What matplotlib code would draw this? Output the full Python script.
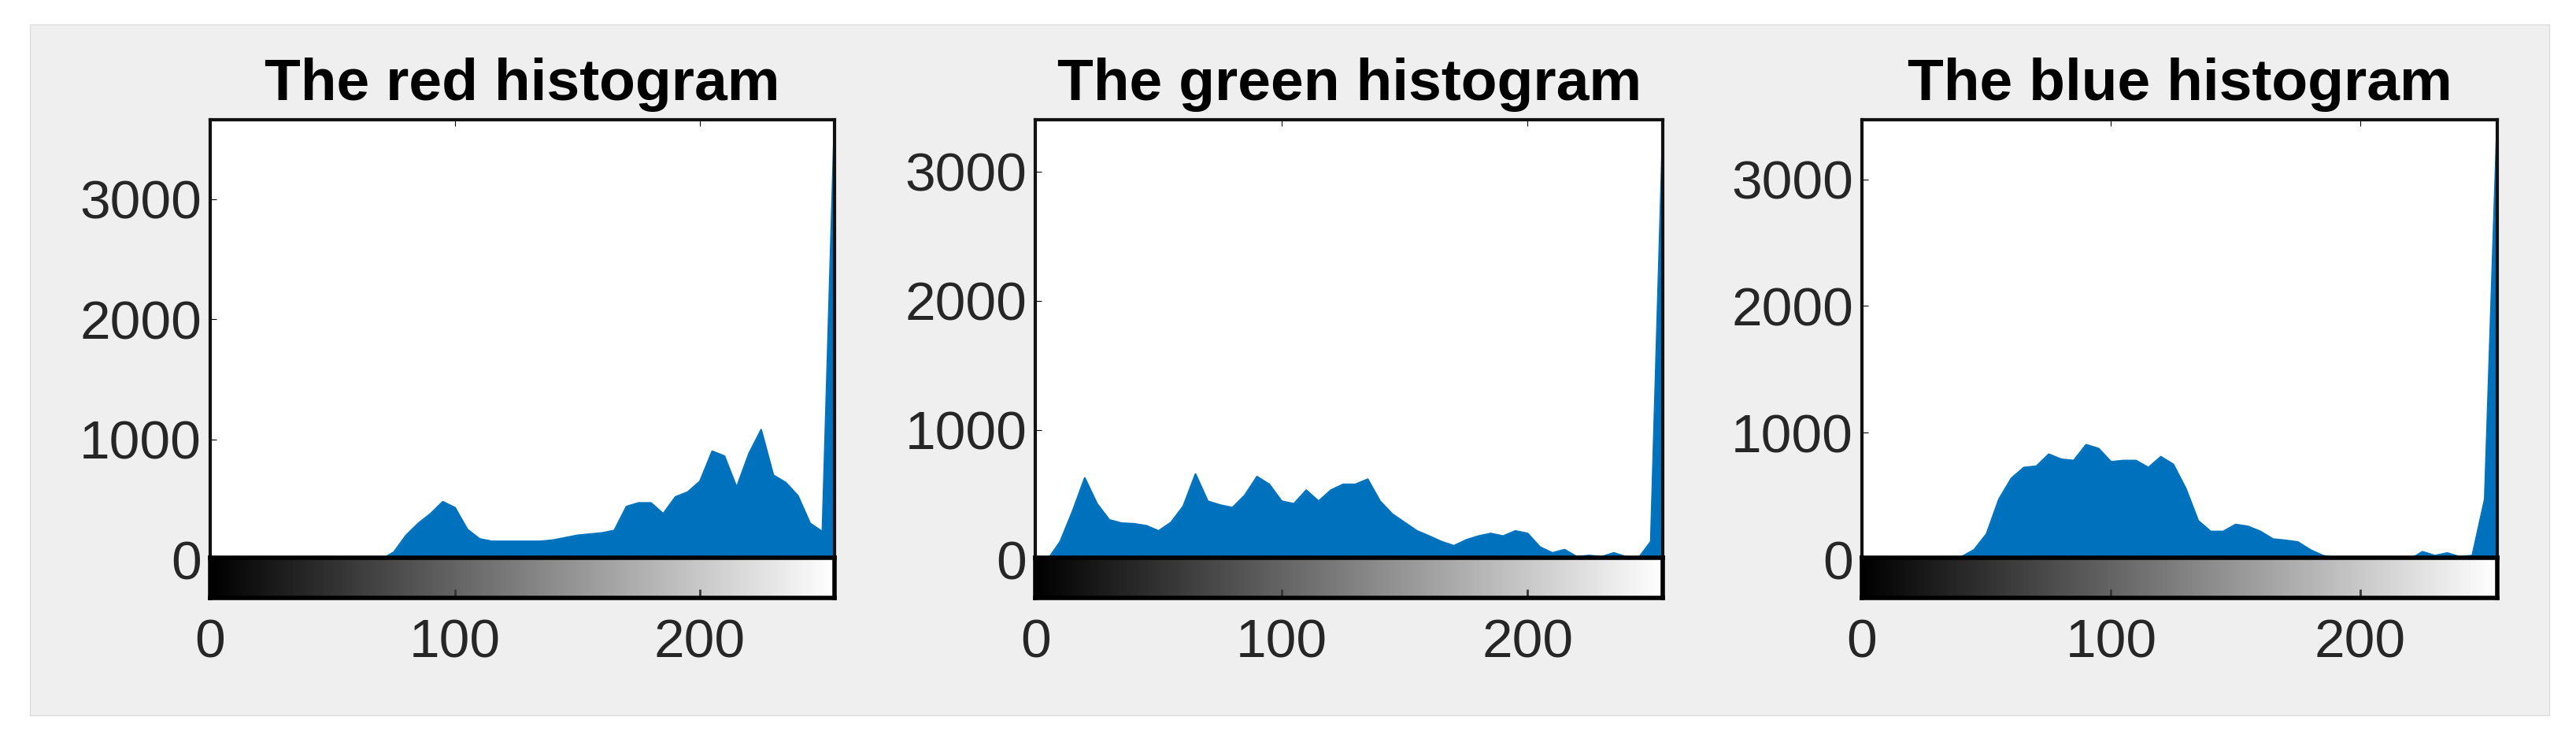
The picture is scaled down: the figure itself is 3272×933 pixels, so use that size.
import numpy as np
import matplotlib.pyplot as plt
from matplotlib.patches import Rectangle

plt.rcParams['font.family'] = ['Liberation Sans', 'DejaVu Sans']

# intensity bins, sampled every 5 levels
bins = np.arange(0, 256, 5)

red_counts = [0, 0, 0, 0, 0, 0, 0, 0, 0, 0, 0, 0, 0, 0,
              0, 60, 200, 300, 380, 480, 430, 250, 170, 150, 150, 150, 150, 150,
              160, 180, 200, 210, 220, 240, 440, 470, 470, 380, 520, 560, 650, 900,
              860, 600, 880, 1080, 700, 640, 530, 300, 230, 3700]
green_counts = [0, 0, 137, 370, 630, 430, 305, 280, 275, 260, 220, 285, 410, 660,
                450, 420, 400, 495, 640, 580, 450, 430, 535, 450, 535, 580, 580, 620,
                450, 350, 285, 220, 180, 137, 105, 150, 180, 200, 180, 220, 200, 95,
                50, 75, 20, 30, 20, 50, 20, 10, 137, 3400]
blue_counts = [0, 0, 0, 0, 0, 0, 0, 0, 20, 75, 200, 475, 640, 725,
               735, 830, 790, 780, 905, 875, 770, 780, 780, 725, 810, 750, 560, 305,
               220, 220, 275, 260, 220, 160, 150, 137, 75, 30, 10, 0, 0, 0,
               0, 0, 0, 60, 30, 50, 20, 30, 475, 3470]

titles = ['The red histogram', 'The green histogram', 'The blue histogram']
series = [red_counts, green_counts, blue_counts]
ymax = [3660, 3400, 3470]
lefts = [0.0816, 0.402, 0.7228]
widths = [0.2424, 0.2436, 0.2466]

fig = plt.figure(figsize=(32.72, 9.33), dpi=100)
fig.patch.set_facecolor('white')
fig.patches.append(Rectangle((0.0116, 0.027), 0.978, 0.94, transform=fig.transFigure,
                             facecolor='#efefef', edgecolor='#dddddd', zorder=-1))

gradient = np.linspace(0, 1, 256).reshape(1, -1)
for i in range(3):
    ax = fig.add_axes([lefts[i], 0.239, widths[i], 0.598])
    ax.fill_between(bins, series[i], 0, color='#0072BD', linewidth=0)
    ax.plot(bins, series[i], color='#0072BD', linewidth=1.5)
    ax.set_xlim(0, 255)
    ax.set_ylim(0, ymax[i])
    ax.set_yticks([0, 1000, 2000, 3000])
    ax.set_xticks([0, 100, 200])
    ax.tick_params(axis='x', direction='in', top=True, bottom=False, labelbottom=False, length=6)
    ax.tick_params(axis='y', direction='in', length=6, labelsize=50, labelcolor='#262626', pad=8)
    for s in ax.spines.values():
        s.set_linewidth(3)
        s.set_color('#111111')
    ax.set_title(titles[i], fontsize=54, fontweight='bold', pad=18)

    cax = fig.add_axes([lefts[i], 0.186, widths[i], 0.055])
    cax.imshow(gradient, aspect='auto', cmap='gray', extent=[0, 255, 0, 1])
    cax.set_xlim(0, 255)
    cax.set_yticks([])
    cax.set_xticks([0, 100, 200])
    cax.tick_params(axis='x', direction='in', length=8, width=2, color='#333333',
                    labelsize=50, labelcolor='#262626', pad=18)
    for s in cax.spines.values():
        s.set_linewidth(4)
        s.set_color('#000000')

fig.savefig('out.png', dpi=100)
